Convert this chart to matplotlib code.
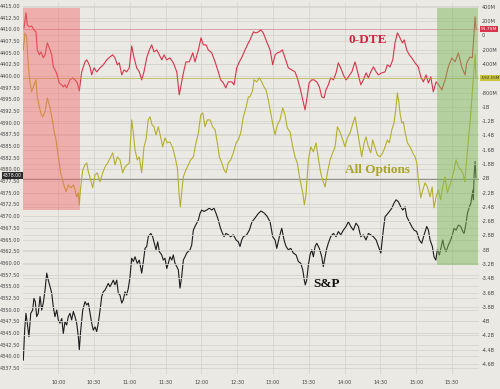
import matplotlib
matplotlib.use("Agg")
import matplotlib.pyplot as plt

# minutes after 09:30
dte_t = [1.3, 2.9, 4.0, 5.7, 7.7, 9.6, 11.3, 12.4, 14.1, 15.5,
         17.4, 18.9, 20.8, 23.1, 24.5, 25.8, 28.1, 29.5, 30.8, 32.9,
         34.2, 35.6, 37.0, 39.8, 42.1, 44.0, 45.9, 47.6, 49.6, 52.4,
         53.8, 55.2, 56.6, 58.0, 59.9, 62.2, 65.0, 67.7, 70.6, 73.3,
         75.6, 77.5, 79.5, 81.1, 83.2, 85.1, 87.3, 89.5, 91.5, 93.5,
         95.7, 97.9, 99.9, 101.8, 104.1, 106.3, 108.3, 110.2, 112.5, 114.7,
         116.7, 118.6, 120.9, 123.6, 126.4, 129.3, 131.4, 133.4, 135.4, 137.0,
         139.8, 142.7, 144.6, 147.4, 149.6, 151.6, 153.8, 155.7, 158.6, 161.4,
         164.1, 166.1, 168.3, 170.3, 172.5, 175.4, 177.3, 179.5, 181.7, 184.0,
         186.5, 189.3, 190.7, 193.5, 195.7, 197.7, 199.7, 201.8, 204.7, 207.5,
         209.7, 211.7, 213.6, 215.8, 217.8, 220.0, 222.8, 225.6, 228.4, 230.3,
         232.6, 234.9, 236.8, 238.2, 240.2, 242.4, 244.3, 246.6, 248.8, 250.8,
         252.7, 254.4, 256.3, 258.3, 260.5, 262.8, 264.7, 266.7, 268.9, 271.2,
         273.1, 276.0, 278.7, 281.5, 283.5, 285.7, 288.0, 289.9, 291.9, 294.1,
         296.4, 298.3, 301.1, 303.9, 305.8, 308.0, 310.3, 312.2, 314.2, 316.4,
         318.4, 320.0, 322.0, 324.2, 326.2, 329.0, 331.7, 333.8, 336.0, 338.2,
         340.2, 342.2, 344.3, 346.6, 348.9, 351.4, 354.2, 356.9, 359.8, 362.5,
         365.3, 368.1, 370.9, 372.3, 375.1, 377.0, 377.9, 379.3, 380.1]
# 0-DTE, $M
dte = [106, 316, 148, 120, 134, 78, 50, -202, -272, -230,
       -314, -272, -104, -202, -272, -440, -510, -580, -664, -692,
       -720, -692, -734, -622, -594, -622, -664, -776, -510, -370,
       -342, -384, -440, -552, -454, -510, -454, -412, -342, -300,
       -272, -314, -412, -384, -552, -482, -510, -454, -146, -314,
       -454, -510, -622, -510, -314, -202, -132, -230, -202, -272,
       -342, -272, -342, -314, -384, -510, -832, -650, -482, -370,
       -370, -244, -370, -202, -34, -132, -132, -202, -244, -370,
       -510, -622, -664, -734, -650, -650, -692, -454, -370, -300,
       -202, -104, -62, 50, 36, 50, 78, 36, -90, -202,
       -412, -272, -244, -230, -202, -314, -454, -482, -510, -594,
       -734, -902, -1042, -902, -664, -622, -622, -650, -720, -860,
       -874, -762, -692, -594, -622, -524, -384, -454, -552, -622,
       -580, -510, -370, -552, -692, -622, -524, -594, -510, -440,
       -510, -552, -524, -510, -412, -440, -342, -104, 36, -34,
       -104, -62, -202, -272, -314, -384, -440, -580, -650, -552,
       -664, -580, -790, -650, -692, -762, -622, -440, -314, -370,
       -244, -440, -552, -384, -300, -314, -104, 260, 91.75]

all_t = [0.7, 2.1, 3.5, 4.9, 6.3, 7.7, 9.1, 10.5, 11.3, 12.4,
         14.1, 15.3, 16.9, 18.9, 20.8, 23.1, 25.0, 26.7, 28.1, 29.2,
         30.8, 32.0, 34.2, 36.5, 38.4, 40.4, 42.6, 44.0, 45.4, 46.8,
         47.6, 48.8, 50.5, 52.4, 53.8, 55.2, 57.2, 58.8, 60.8, 62.7,
         65.0, 67.2, 69.2, 71.9, 73.9, 75.6, 77.5, 79.5, 81.7, 84.0,
         85.9, 87.8, 89.5, 91.5, 92.9, 94.3, 96.2, 97.9, 99.9, 101.8,
         103.5, 105.4, 106.9, 108.6, 110.2, 111.9, 113.8, 115.8, 117.5, 119.4,
         121.4, 123.6, 125.9, 127.8, 129.8, 131.4, 132.3, 133.4, 134.8, 137.0,
         139.0, 141.0, 143.2, 145.4, 147.4, 149.4, 151.1, 153.0, 154.9, 157.2,
         159.4, 161.4, 163.3, 165.0, 167.0, 168.9, 170.6, 172.5, 174.5, 176.7,
         179.0, 180.9, 182.9, 185.1, 187.3, 189.3, 190.7, 193.0, 194.0, 196.3,
         198.5, 200.5, 202.4, 204.1, 206.0, 208.0, 210.2, 211.7, 213.6, 215.8,
         218.1, 220.0, 221.9, 224.2, 226.5, 228.4, 230.3, 232.6, 234.9, 236.2,
         237.6, 239.6, 241.6, 243.8, 246.0, 247.9, 249.9, 252.1, 253.6, 255.5,
         257.8, 260.0, 262.0, 263.9, 266.1, 268.4, 270.3, 272.3, 274.5, 277.3,
         278.7, 280.6, 282.9, 284.3, 286.3, 287.9, 289.9, 291.9, 293.5, 295.5,
         297.4, 299.7, 301.9, 303.9, 305.8, 307.5, 309.5, 311.4, 312.8, 314.2,
         315.4, 316.4, 317.9, 319.2, 320.6, 322.6, 324.8, 327.1, 329.0, 330.5,
         331.8, 333.8, 335.5, 337.4, 339.3, 341.6, 343.3, 344.9, 346.6, 348.5,
         350.5, 352.2, 354.1, 356.1, 357.7, 359.8, 361.7, 363.4, 365.3, 367.3,
         369.0, 370.7, 372.3, 373.7, 375.1, 376.5, 377.9, 379.3, 380.1]
# All options, $M
all_opt = [-202, 36, -20, -440, -664, -790, -720, -650, -622, -860,
           -1000, -1084, -1140, -1070, -874, -1014, -1182, -1364, -1462, -1602,
           -1784, -1924, -2064, -2190, -2092, -2134, -2092, -2162, -2260, -2204,
           -2372, -2120, -1882, -1812, -1784, -1910, -2022, -2134, -1952, -1924,
           -2050, -1924, -1840, -1770, -1700, -1644, -1812, -1700, -1742, -1924,
           -1840, -1812, -1784, -1182, -1364, -1602, -1742, -1700, -1924, -1560,
           -1462, -1182, -1140, -1252, -1280, -1392, -1280, -1420, -1560, -1434,
           -1504, -1490, -1574, -1700, -1854, -2260, -2400, -2204, -1980, -1882,
           -1812, -1742, -1700, -1504, -1364, -1112, -1084, -1280, -1182, -1182,
           -1280, -1322, -1504, -1700, -1784, -1882, -1924, -1784, -1742, -1644,
           -1504, -1462, -1364, -1140, -1014, -860, -860, -762, -622, -650,
           -594, -650, -720, -762, -902, -1084, -1280, -1392, -1252, -1182,
           -1014, -1112, -1294, -1350, -1560, -1700, -1784, -2022, -2204, -2372,
           -2232, -1742, -1560, -1630, -1504, -1714, -1924, -2050, -2120, -1924,
           -1742, -1644, -1560, -1280, -1350, -1462, -1560, -1434, -1364, -1210,
           -1140, -1322, -1560, -1700, -1504, -1420, -1560, -1644, -1462, -1574,
           -1672, -1700, -1644, -1560, -1462, -1504, -1322, -1224, -1042, -804,
           -930, -1084, -1224, -1210, -1350, -1504, -1560, -1644, -1700, -1784,
           -2022, -2274, -2162, -2064, -2120, -2260, -2120, -2414, -2260, -2162,
           -2302, -2120, -1980, -2204, -2120, -2022, -1882, -1742, -1840, -1882,
           -1924, -2050, -1742, -1462, -1224, -902, -580, -272, -592.15]

spx_t = [0.7, 1.8, 2.9, 4.0, 5.4, 6.9, 8.5, 9.6, 10.7, 11.9,
         13.2, 14.7, 16.1, 17.4, 18.9, 20.3, 21.6, 23.1, 24.5, 25.8,
         27.2, 28.7, 30.0, 31.4, 32.9, 34.2, 35.6, 37.0, 38.4, 39.8,
         41.2, 42.6, 44.0, 45.4, 46.8, 47.6, 48.8, 50.5, 52.4, 53.8,
         55.2, 56.6, 58.0, 59.3, 60.8, 62.2, 63.5, 65.0, 66.4, 67.7,
         69.2, 70.6, 71.9, 73.3, 74.8, 76.1, 77.5, 79.0, 80.3, 81.7,
         83.2, 84.5, 85.9, 87.3, 88.7, 90.1, 91.5, 92.9, 94.3, 96.2,
         97.9, 99.9, 101.3, 102.7, 104.1, 105.4, 107.5, 109.1, 110.5, 111.9,
         113.3, 114.7, 116.7, 118.0, 119.4, 120.9, 122.2, 123.6, 125.1, 126.4,
         127.8, 129.3, 130.6, 132.0, 133.4, 134.8, 136.2, 137.6, 140.4, 141.8,
         143.2, 144.6, 146.0, 147.4, 148.8, 150.2, 152.1, 154.4, 156.6, 158.6,
         160.5, 162.2, 164.1, 165.5, 167.0, 168.9, 170.6, 172.5, 174.5, 176.7,
         179.0, 180.9, 182.3, 183.7, 185.1, 187.9, 190.1, 192.4, 194.9, 197.4,
         199.9, 202.4, 204.9, 207.5, 209.7, 211.7, 213.1, 215.3, 217.3, 219.2,
         220.9, 222.8, 224.8, 227.0, 229.3, 231.2, 233.2, 234.9, 236.2, 237.0,
         238.2, 239.6, 241.0, 242.4, 243.8, 245.2, 246.6, 248.8, 250.8, 252.1,
         253.6, 255.0, 256.3, 258.3, 260.5, 262.8, 264.7, 266.7, 268.9, 271.2,
         273.1, 275.1, 277.3, 279.5, 281.5, 283.5, 285.7, 287.9, 289.9, 291.9,
         294.1, 296.4, 298.3, 300.3, 302.4, 303.9, 305.3, 307.5, 309.5, 311.4,
         313.1, 315.0, 317.0, 318.7, 320.6, 322.0, 324.2, 326.2, 328.2, 330.4,
         332.6, 334.6, 336.6, 338.8, 340.2, 341.6, 343.5, 344.9, 346.4, 347.7,
         349.4, 352.2, 353.3, 355.0, 356.9, 358.9, 360.6, 361.7, 363.4, 365.3,
         367.3, 369.0, 370.1, 371.8, 372.9, 374.6, 375.8, 376.6, 377.5, 377.9,
         378.5, 379.3, 380.1]
spx = [4339.2, 4345.6, 4349.2, 4347.1, 4344.2, 4349.2, 4349.9, 4352.4, 4351.7, 4348.5,
       4349.2, 4352.8, 4349.9, 4351.4, 4354.2, 4357.8, 4356.3, 4354.9, 4353.5, 4350.6,
       4348.5, 4349.9, 4347.8, 4347.1, 4348.1, 4344.9, 4347.4, 4346.7, 4348.5, 4349.2,
       4347.8, 4349.6, 4348.5, 4347.1, 4344.2, 4341.4, 4345.6, 4349.9, 4351.7, 4351.0,
       4351.4, 4349.2, 4347.1, 4345.6, 4346.3, 4345.3, 4347.1, 4349.9, 4352.8, 4353.8,
       4354.2, 4354.9, 4355.6, 4354.9, 4355.6, 4356.3, 4355.3, 4356.3, 4353.5, 4353.1,
       4351.4, 4352.1, 4353.8, 4353.1, 4354.6, 4357.0, 4361.0, 4360.3, 4361.3, 4359.9,
       4360.6, 4357.8, 4360.3, 4363.1, 4363.5, 4365.6, 4366.3, 4365.6, 4364.2, 4362.8,
       4364.5, 4362.4, 4361.7, 4360.6, 4361.0, 4358.8, 4359.9, 4361.3, 4360.6, 4361.7,
       4359.9, 4359.2, 4358.5, 4354.6, 4357.0, 4360.6, 4361.3, 4362.1, 4362.8, 4363.8,
       4367.0, 4367.8, 4368.5, 4369.2, 4370.6, 4371.3, 4371.0, 4371.3, 4371.7, 4371.3,
       4371.7, 4370.6, 4369.2, 4367.8, 4366.7, 4365.6, 4366.3, 4366.0, 4365.6, 4366.0,
       4364.9, 4364.5, 4363.5, 4364.9, 4365.6, 4366.0, 4367.0, 4368.8, 4369.6, 4370.5,
       4371.1, 4370.7, 4370.0, 4368.8, 4365.6, 4364.9, 4363.1, 4365.6, 4367.4, 4364.9,
       4363.5, 4362.8, 4363.1, 4362.1, 4361.7, 4360.3, 4359.9, 4358.5, 4356.3, 4355.3,
       4356.3, 4359.6, 4361.7, 4362.8, 4361.3, 4363.5, 4364.2, 4363.1, 4361.3, 4359.2,
       4361.3, 4363.1, 4364.2, 4365.6, 4366.3, 4365.6, 4366.7, 4366.0, 4367.0, 4367.8,
       4368.8, 4367.8, 4367.0, 4368.5, 4367.8, 4365.6, 4366.0, 4364.9, 4366.3, 4366.0,
       4365.6, 4364.9, 4363.5, 4362.1, 4367.0, 4369.9, 4370.3, 4371.0, 4371.7, 4372.8,
       4373.5, 4373.1, 4372.0, 4371.3, 4372.0, 4369.9, 4368.8, 4367.8, 4367.0, 4366.7,
       4364.9, 4364.2, 4366.0, 4367.8, 4367.0, 4364.9, 4363.5, 4361.3, 4360.6, 4362.8,
       4361.7, 4364.9, 4363.5, 4362.4, 4363.8, 4364.9, 4366.3, 4367.4, 4367.0, 4368.1,
       4367.8, 4366.7, 4366.3, 4368.5, 4370.6, 4372.0, 4372.8, 4374.2, 4375.6, 4373.5,
       4378.8, 4381.7, 4378.0]

time_ticks = [30, 60, 90, 120, 150, 180, 210, 240, 270, 300, 330, 360]
time_labels = ["10:00", "10:30", "11:00", "11:30", "12:00", "12:30",
               "13:00", "13:30", "14:00", "14:30", "15:00", "15:30"]
spx_ticks = [4337.5 + 2.5 * i for i in range(32)]
flow_ticks = [400 - 200 * i for i in range(26)]

BG = "#ebe9e4"
RED = "#d8344c"
OLIVE = "#b3b02a"
GRID = "#d6d4cf"


def flow_fmt(v):
    if v == -600:
        return ""  # hidden behind the last-value tag
    if v == 0:
        return "0"
    if abs(v) >= 1000:
        return f"{v / 1000:g}B"
    return f"{v:g}M"


fig = plt.figure(figsize=(5, 3.89), dpi=100, facecolor=BG)
ax = fig.add_axes([0.045, 0.0386, 0.913, 0.954], facecolor=BG)
ax2 = ax.twinx()

ax.set_xlim(0, 382.6)
ax.set_ylim(4336.22, 4415.64)
ax2.set_ylim(-4740, 456)

ax.set_yticks(spx_ticks)
ax.set_yticklabels([f"{v:.2f}" for v in spx_ticks])
ax.set_xticks(time_ticks)
ax.set_xticklabels(time_labels)
ax2.set_yticks(flow_ticks)
ax2.set_yticklabels([flow_fmt(v) for v in flow_ticks])

ax.grid(True, color=GRID, lw=0.6)
ax2.grid(True, axis="y", color=GRID, lw=0.6)
ax.set_axisbelow(True)
for a in (ax, ax2):
    for s in a.spines.values():
        s.set_visible(False)
    a.tick_params(length=0, labelsize=3.6, colors="#444444")
ax.tick_params(axis="y", pad=1.5)
ax.tick_params(axis="x", pad=4)
ax2.tick_params(axis="y", pad=2)

ax.plot(spx_t, spx, color="#1c1c1c", lw=0.8)
ax2.plot(dte_t, dte, color=RED, lw=0.8)
ax2.plot(all_t, all_opt, color=OLIVE, lw=0.8)

# last-value lines and tags
ax.axhline(spx[-1], color="#666666", lw=0.5)
ax2.axhline(dte[-1], color=RED, lw=0.4, alpha=0.6)
ax2.axhline(all_opt[-1], color=OLIVE, lw=0.5, alpha=0.8)
ax.annotate(f"{spx[-1]:.2f}", xy=(-0.002, spx[-1]), xycoords=ax.get_yaxis_transform(),
            xytext=(0, 2.2), textcoords="offset points",
            ha="right", va="center", fontsize=3.3, color="white", zorder=10,
            bbox=dict(boxstyle="square,pad=0.2", fc="#2a2a2a", ec="none"))
ax2.text(1.004, dte[-1], f"{dte[-1]:.2f}M", transform=ax2.get_yaxis_transform(),
         ha="left", va="center", fontsize=3.2, color="white",
         bbox=dict(boxstyle="square,pad=0.25", fc=RED, ec="none"))
ax2.text(1.004, all_opt[-1], f"{all_opt[-1]:.2f}M", transform=ax2.get_yaxis_transform(),
         ha="left", va="center", fontsize=3.0, color="#333333",
         bbox=dict(boxstyle="square,pad=0.25", fc="#c9c43a", ec="none"))

# highlighted windows
ax2.axvspan(0, 48.2, ymin=0.442, ymax=0.986, color="#f26666", alpha=0.45, lw=0, zorder=5)
ax2.axvspan(347.4, 382, ymin=0.294, ymax=0.986, color="#7fb85a", alpha=0.5, lw=0, zorder=5)

serif = dict(family="Liberation Serif", fontweight="bold", fontsize=9.5, ha="center", va="center")
ax2.text(289.3, -62, "0-DTE", color="#d2233f", **serif)
ax2.text(297.6, -1882, "All Options", color="#a8a428", **serif)
ax.text(255.2, 4355.4, "S&P", color="#111111", **serif)

fig.savefig("out.png", dpi=100, facecolor=BG)
